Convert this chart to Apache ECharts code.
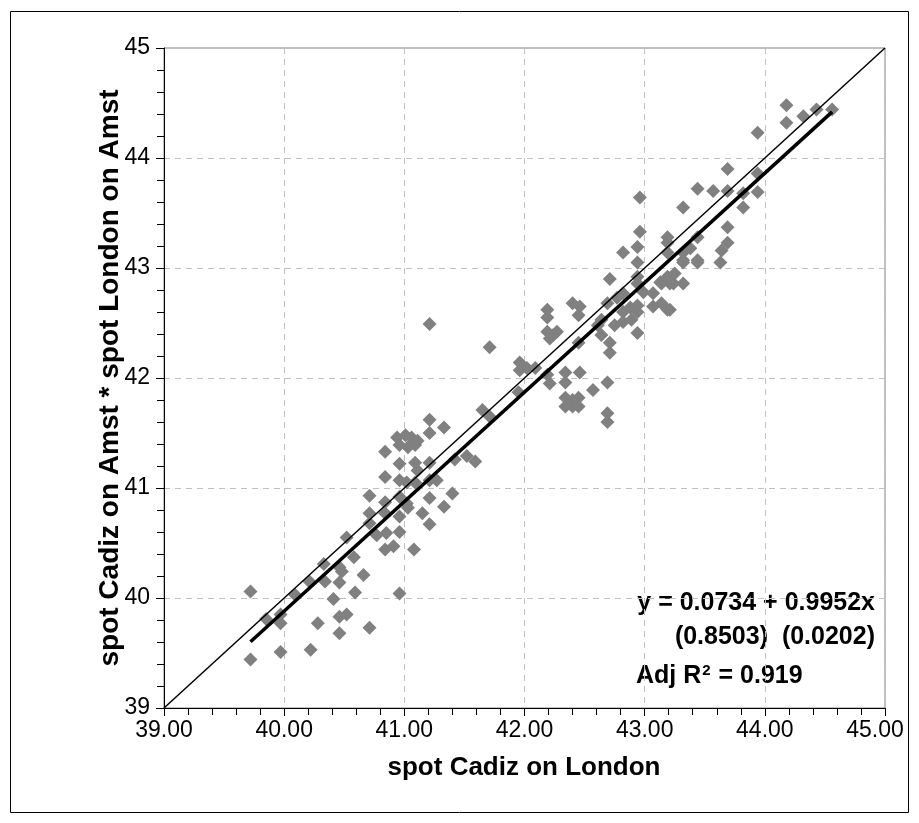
<!DOCTYPE html>
<html><head><meta charset="utf-8">
<script src="https://cdn.jsdelivr.net/npm/echarts/dist/echarts.min.js"></script>
<style>html,body{margin:0;padding:0;background:#fff}#c{width:919px;height:823px}</style>
</head><body><div id="c"></div>
<script>
// spot Cadiz on London (x) vs spot Cadiz on Amst * spot London on Amst (y)
const xValues = [
39.72,39.72,39.85,39.97,39.97,39.97,40.09,40.21,40.22,40.28,40.34,40.33,40.41,40.46,40.48,40.46,40.46,40.52,40.46,40.52,
40.58,40.59,40.66,40.71,40.96,40.77,40.85,40.84,40.91,40.96,41.08,40.71,40.71,40.84,40.96,41.03,41.15,41.33,41.21,40.71,
40.84,40.96,41.02,41.21,41.40,40.84,40.96,41.02,41.09,41.21,41.27,40.84,40.96,41.09,41.21,41.11,41.42,41.52,41.59,41.65,
41.71,41.21,41.33,41.21,40.94,41.01,41.06,41.11,40.96,41.03,41.09,41.21,
41.71,42.19,42.19,42.40,42.46,42.45,42.19,42.24,42.27,42.21,42.45,42.61,41.96,42.02,42.09,41.96,42.19,42.21,42.34,42.34,
42.46,42.57,42.34,42.34,42.40,42.45,42.45,42.40,41.95,42.69,42.69,42.69,
42.71,42.64,42.71,42.71,42.94,42.64,42.69,42.75,42.82,42.82,42.88,42.89,42.94,42.94,42.99,43.07,43.07,43.14,43.21,42.94,
42.94,42.82,42.77,43.13,43.21,43.32,43.19,43.25,43.32,43.38,43.44,42.82,42.94,42.94,
44.18,44.18,44.32,44.43,44.56,43.94,43.69,43.44,43.57,43.69,43.82,43.94,43.94,43.32,43.82,43.69,43.19,43.19,43.44,43.69,
43.64,43.63,43.44,43.32,43.32,43.19,43.14,43.24,43.19,42.96,42.96
];
const yValues = [
40.06,39.44,39.81,39.85,39.77,39.51,40.03,40.15,39.53,39.77,40.15,40.31,39.99,40.28,40.24,40.14,39.83,39.85,39.68,40.55,
40.37,40.05,40.21,39.73,40.04,40.57,40.59,40.44,40.47,40.60,40.44,40.68,40.77,40.77,40.74,40.82,40.77,40.83,40.67,40.93,
40.87,40.92,40.86,40.91,40.95,41.10,41.07,41.05,41.05,41.07,41.07,41.33,41.22,41.23,41.23,41.16,41.26,41.29,41.24,41.71,
41.65,41.62,41.55,41.50,41.46,41.48,41.46,41.43,41.39,41.37,41.39,42.49,
42.28,42.62,42.55,42.68,42.65,42.57,42.42,42.39,42.42,42.36,42.32,42.48,42.14,42.09,42.09,42.07,42.03,41.95,42.05,41.96,
42.05,41.89,41.82,41.74,41.80,41.82,41.74,41.74,41.87,41.96,41.68,41.60,
42.90,42.39,42.32,42.23,42.41,42.53,42.68,42.48,42.51,42.60,42.64,42.53,42.66,42.60,42.78,42.77,42.65,42.68,42.62,42.86,
42.92,42.77,42.73,42.87,42.86,42.86,42.92,42.95,43.07,43.18,43.07,43.14,43.19,43.05,
44.48,44.32,44.38,44.44,44.44,44.23,43.90,43.72,43.70,43.70,43.68,43.69,43.86,43.55,43.55,43.37,43.28,43.23,43.28,43.23,
43.16,43.05,43.05,43.14,43.05,43.14,42.86,42.86,42.62,43.64,43.33
];
const axisMin = 39, axisMax = 45, axisStep = 1;
const xTickDecimals = 2;
const regIntercept = 0.0734, regSlope = 0.9952;
const eqText = 'y = 0.0734 + 0.9952x';
const seText = '(0.8503)  (0.0202)';
const r2Value = '0.919';
const xTitle = 'spot Cadiz on London';
const yTitle = 'spot Cadiz on Amst * spot London on Amst';

const FONT = "'Liberation Sans', Arial, sans-serif";
const points = xValues.map((x, i) => [x, yValues[i]]);
const xMinData = Math.min(...xValues), xMaxData = Math.max(...xValues);
const regLine = [[xMinData, regIntercept + regSlope * xMinData], [xMaxData, regIntercept + regSlope * xMaxData]];
const diagLine = [[axisMin, axisMin], [axisMax, axisMax]];

const axisCommon = {
  type: 'value', min: axisMin, max: axisMax, interval: axisStep,
  axisLine: { show: true, onZero: false, lineStyle: { color: '#000', width: 1 } },
  axisTick: { show: true, length: 8, lineStyle: { color: '#000', width: 1 } },
  minorTick: { show: true, splitNumber: 5, length: 7, lineStyle: { color: '#000', width: 1 } },
  splitLine: { show: true, lineStyle: { color: '#c0c0c0', type: [6, 5], width: 1 } },
};

const chart = echarts.init(document.getElementById('c'), null, { renderer: 'canvas' });
chart.setOption({
  animation: false,
  backgroundColor: '#fff',
  grid: { left: 164, top: 48, right: 34, bottom: 115, show: true, borderColor: '#808080', borderWidth: 1, backgroundColor: 'transparent' },
  xAxis: Object.assign({}, axisCommon, {
    axisLabel: { fontSize: 23, fontFamily: FONT, color: '#000', margin: 11, showMinLabel: true, showMaxLabel: true,
      formatter: v => v === axisMax ? '{m|' + v.toFixed(xTickDecimals) + '}' : v.toFixed(xTickDecimals),
      rich: { m: { fontSize: 23, fontFamily: FONT, color: '#000', padding: [0, 20, 0, 0] } } }
  }),
  yAxis: Object.assign({}, axisCommon, {
    axisLabel: { fontSize: 23, fontFamily: FONT, color: '#000', margin: 14, showMinLabel: true, showMaxLabel: true,
      formatter: v => String(v) }
  }),
  series: [
    { type: 'scatter', data: points, symbol: 'diamond', symbolSize: 14, itemStyle: { color: '#808080', opacity: 1 }, z: 2, silent: true },
    { type: 'line', data: diagLine, symbol: 'none', lineStyle: { color: '#000', width: 1.5 }, z: 3, silent: true },
    { type: 'line', data: regLine, symbol: 'none', lineStyle: { color: '#000', width: 3.5 }, z: 4, silent: true }
  ],
  graphic: [
    { type: 'rect', shape: { x: 10.5, y: 11.5, width: 898, height: 801 }, style: { fill: 'none', stroke: '#000', lineWidth: 1 }, silent: true },
    { type: 'text', x: 524, y: 768, style: { text: xTitle, font: 'bold 26px ' + FONT, fill: '#000', textAlign: 'center', textVerticalAlign: 'middle' } },
    { type: 'text', x: 110, y: 378, rotation: Math.PI / 2, style: { text: yTitle, font: 'bold 28px ' + FONT, fill: '#000', textAlign: 'center', textVerticalAlign: 'middle' } },
    { type: 'text', x: 875, y: 603, style: { text: eqText, font: 'bold 25px ' + FONT, fill: '#000', textAlign: 'right', textVerticalAlign: 'middle' } },
    { type: 'text', x: 875, y: 637, style: { text: seText, font: 'bold 25px ' + FONT, fill: '#000', textAlign: 'right', textVerticalAlign: 'middle' } },
    { type: 'text', x: 636, y: 676, style: {
      text: '{a|Adj R}{s|2}{a| = ' + r2Value + '}',
      textAlign: 'left', textVerticalAlign: 'middle',
      rich: {
        a: { font: 'bold 25px ' + FONT, fill: '#000' },
        s: { font: 'bold 15px ' + FONT, fill: '#000', verticalAlign: 'top', padding: [0, 1, 0, 1] }
      }
    } }
  ]
});
</script>
</body></html>
